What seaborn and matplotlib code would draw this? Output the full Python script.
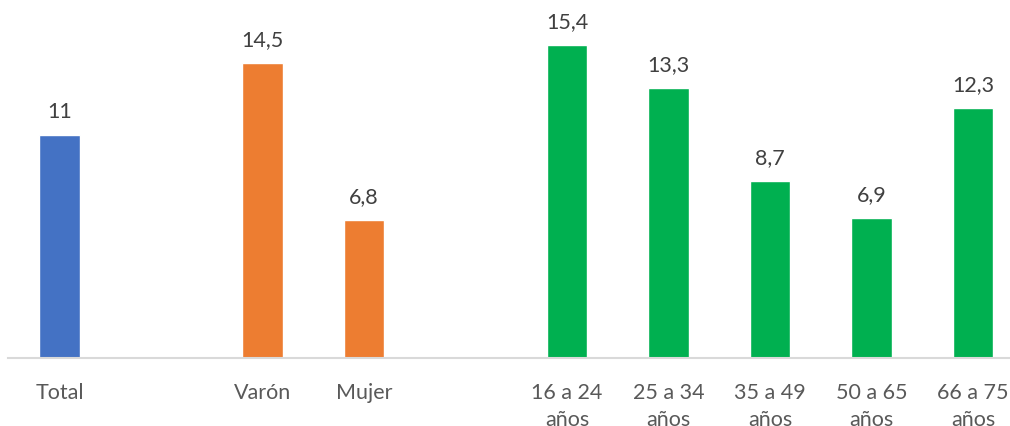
import pandas as pd
import seaborn as sns
import matplotlib.pyplot as plt

# datos
categorias = ["Total", "Varón", "Mujer", "16 a 24\naños", "25 a 34\naños",
              "35 a 49\naños", "50 a 65\naños", "66 a 75\naños"]
valores = [11, 14.5, 6.8, 15.4, 13.3, 8.7, 6.9, 12.3]
grupos = ["total", "sexo", "sexo", "edad", "edad", "edad", "edad", "edad"]

# huecos vacíos entre grupos
orden = ["Total", "", "Varón", "Mujer", " ", "16 a 24\naños", "25 a 34\naños",
         "35 a 49\naños", "50 a 65\naños", "66 a 75\naños"]
colores = {"total": "#4472C4", "sexo": "#ED7D31", "edad": "#00B050"}

df = pd.DataFrame({"cat": categorias, "valor": valores, "grupo": grupos})

sns.set_style("white")
plt.rcParams['font.family'] = ['Lato', 'DejaVu Sans']

fig = plt.figure(figsize=(10.1, 4.27), dpi=100)
ax = fig.add_axes([8 / 1010, 0.159, 1 - 8 / 1010, 1 - 0.159])

sns.barplot(data=df, x="cat", y="valor", hue="grupo", order=orden,
            palette=colores, dodge=False, width=0.4, legend=False,
            saturation=1, ax=ax)

for c in ax.containers:
    ax.bar_label(c, labels=[f"{v:g}".replace(".", ",") for v in c.datavalues],
                 padding=10, fontsize=15.5, color="#404040")

ax.set_xlim(-0.507, 9.365)
ax.set_ylim(0, 17.67)
ax.set_xlabel("")
ax.set_ylabel("")
ax.set_yticks([])
for s in ["top", "right", "left"]:
    ax.spines[s].set_visible(False)
ax.spines["bottom"].set_color("#D9D9D9")
ax.spines["bottom"].set_linewidth(1.5)
ax.tick_params(axis="x", length=0, pad=17, labelsize=15.5, labelcolor="#595959")
for t in ax.get_xticklabels():
    t.set_linespacing(1.45)

fig.savefig("out.png", dpi=100)
